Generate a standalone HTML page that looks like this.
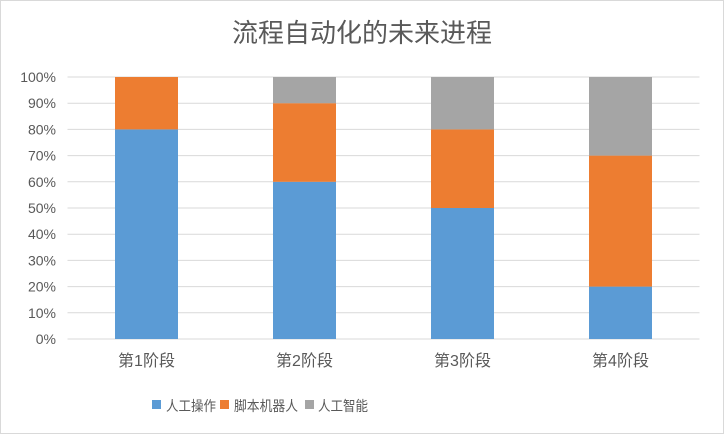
<!DOCTYPE html>
<html><head><meta charset="utf-8"><style>
html,body{margin:0;padding:0;background:#fff}
body{width:724px;height:434px;overflow:hidden}
svg text{font-family:"Liberation Sans","Noto Sans CJK SC",sans-serif;fill:#595959}
</style></head><body>
<svg id="c" width="724" height="434">
<rect x="0.5" y="0.5" width="723" height="433" fill="#fff" stroke="#d9d9d9"/>
<text x="362" y="42" text-anchor="middle" font-size="26">流程自动化的未来进程</text>
<g id="grid"></g><g id="bars"></g><g id="xlab"></g><g id="ylab"></g>
<g>
<g><rect x="152" y="400" width="9" height="9" fill="#5b9bd5"/><text x="166" y="411" font-size="14" textLength="50" lengthAdjust="spacingAndGlyphs">人工操作</text></g>
<g><rect x="220" y="400" width="9" height="9" fill="#ed7d31"/><text x="234" y="411" font-size="14" textLength="64" lengthAdjust="spacingAndGlyphs">脚本机器人</text></g>
<g><rect x="305" y="400" width="9" height="9" fill="#a5a5a5"/><text x="318" y="411" font-size="14" textLength="50" lengthAdjust="spacingAndGlyphs">人工智能</text></g>
</g>
</svg>
<script>
const categories=["第1阶段","第2阶段","第3阶段","第4阶段"];
const manual=[80,60,50,20];
const script=[20,30,30,50];
const ai=[0,10,20,30];
const yTicks=["0%","10%","20%","30%","40%","50%","60%","70%","80%","90%","100%"];
const NS="http://www.w3.org/2000/svg";
const L=67.5,R=699.5,T=77,B=339;
const band=(R-L)/categories.length,bw=63;
const y=v=>B-(v/100)*(B-T);
const xc=i=>L+band*(i+0.5);
function mk(t,a,p){const e=document.createElementNS(NS,t);for(const k in a)e.setAttribute(k,a[k]);p.appendChild(e);return e;}
const g=document.getElementById('grid'),yl=document.getElementById('ylab'),bars=document.getElementById('bars'),xl=document.getElementById('xlab');
yTicks.forEach((t,i)=>{const v=i*10;
const ln=mk('line',{x1:L,x2:R,y1:y(v),y2:y(v),stroke:'#d9d9d9','stroke-width':1},g);


const tx=mk('text',{x:56,y:y(v)+5,'text-anchor':'end','font-size':14},yl);tx.textContent=t;


});
const series=[[manual,'#5b9bd5','manual'],[script,'#ed7d31','script-robot'],[ai,'#a5a5a5','ai']];
categories.forEach((c,i)=>{let acc=0;
series.forEach(([arr,col,nm])=>{const v=arr[i];if(v>0){
const r=mk('rect',{x:xc(i)-bw/2,y:y(acc+v),width:bw,height:y(acc)-y(acc+v),fill:col},bars);

}
acc+=v;});
const tx=mk('text',{x:xc(i),y:366,'text-anchor':'middle','font-size':16},xl);tx.textContent=c;


});
</script>
</body></html>
